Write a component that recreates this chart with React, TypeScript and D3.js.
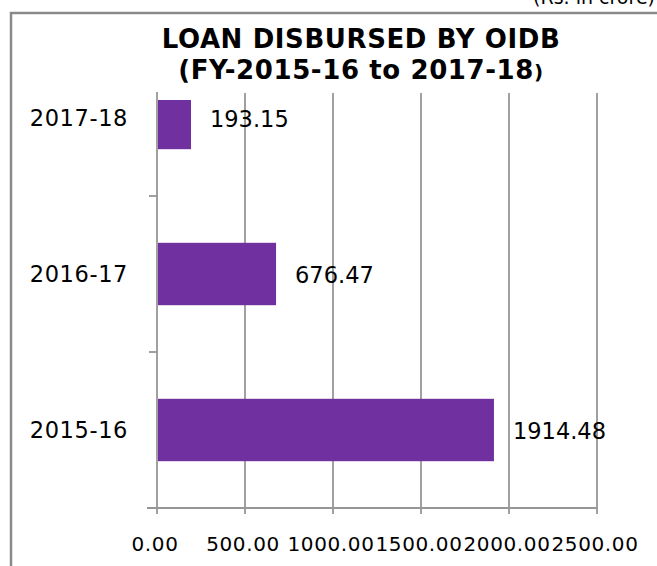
import { useEffect, useRef } from 'react'
import * as d3 from 'd3'

const years = ['2017-18', '2016-17', '2015-16']
const loans = [193.15, 676.47, 1914.48]
const xTicks = [0, 500, 1000, 1500, 2000, 2500]

const W = 657
const H = 566
const FONT = '"DejaVu Sans", Verdana, sans-serif'
const PURPLE = '#7030a0'
const GRID = '#969696'

export default function App() {
  const svgRef = useRef<SVGSVGElement>(null)

  useEffect(() => {
    if (!svgRef.current) return
    const svg = d3.select(svgRef.current)
    svg.selectAll('*').remove()

    const plotTop = 93
    const x = d3.scaleLinear().domain([0, 2500]).range([157, 597])
    const y = d3.scaleBand().domain(years).range([40, 508])
    const barH = y.bandwidth() * 0.4
    const bottom = y.range()[1]

    // outer chart border (cropped)
    svg
      .append('path')
      .attr('d', `M11,${H} V13 H${W}`)
      .attr('fill', 'none')
      .attr('stroke', '#8a8a8a')
      .attr('stroke-width', 2.5)

    svg
      .append('text')
      .attr('x', W - 2)
      .attr('y', 4)
      .attr('text-anchor', 'end')
      .attr('font-family', FONT)
      .attr('font-size', 19)
      .text('(Rs. in crore)')

    // title
    const title = svg
      .append('text')
      .attr('text-anchor', 'middle')
      .attr('font-family', FONT)
      .attr('font-weight', 'bold')
      .attr('font-size', 26)
      .attr('letter-spacing', 0.6)
    title.append('tspan').attr('x', 361).attr('y', 48).text('LOAN DISBURSED BY OIDB')
    const l2 = title.append('tspan').attr('x', 361).attr('y', 79)
    l2.append('tspan').text('(FY-2015-16 to 2017-18')
    l2.append('tspan').attr('font-size', 20).text(')')

    // vertical gridlines
    svg
      .selectAll('line.grid')
      .data(xTicks.slice(1))
      .join('line')
      .attr('class', 'grid')
      .attr('x1', (d) => x(d))
      .attr('x2', (d) => x(d))
      .attr('y1', plotTop)
      .attr('y2', bottom + 6)
      .attr('stroke', GRID)
      .attr('stroke-width', 1.8)

    // y axis line and ticks
    svg
      .append('line')
      .attr('x1', x(0))
      .attr('x2', x(0))
      .attr('y1', plotTop - 1)
      .attr('y2', bottom + 6)
      .attr('stroke', GRID)
      .attr('stroke-width', 1.8)
    svg
      .selectAll('line.ytick')
      .data(years.slice(1))
      .join('line')
      .attr('class', 'ytick')
      .attr('x1', x(0) - 8)
      .attr('x2', x(0))
      .attr('y1', (d) => y(d)!)
      .attr('y2', (d) => y(d)!)
      .attr('stroke', GRID)
      .attr('stroke-width', 1.8)

    // x axis line
    svg
      .append('line')
      .attr('x1', x(0) - 10)
      .attr('x2', x(2500))
      .attr('y1', bottom)
      .attr('y2', bottom)
      .attr('stroke', GRID)
      .attr('stroke-width', 1.8)

    // bars, clipped under the title
    svg
      .append('clipPath')
      .attr('id', 'plot-clip')
      .append('rect')
      .attr('x', 0)
      .attr('y', 100)
      .attr('width', W)
      .attr('height', H)

    svg
      .append('g')
      .attr('clip-path', 'url(#plot-clip)')
      .selectAll('rect')
      .data(years)
      .join('rect')
      .attr('x', x(0) + 1)
      .attr('y', (d) => y(d)! + (y.bandwidth() - barH) / 2)
      .attr('width', (d, i) => x(loans[i]) - x(0) - 1)
      .attr('height', barH)
      .attr('fill', PURPLE)

    // value labels
    svg
      .selectAll('text.val')
      .data(years)
      .join('text')
      .attr('class', 'val')
      .attr('x', (d, i) => x(loans[i]) + 19)
      .attr('y', (d) => y(d)! + y.bandwidth() / 2)
      .attr('dy', '0.38em')
      .attr('font-family', FONT)
      .attr('font-size', 22.5)
      .text((d, i) => loans[i].toFixed(2))

    // category labels
    svg
      .selectAll('text.cat')
      .data(years)
      .join('text')
      .attr('class', 'cat')
      .attr('x', 128)
      .attr('y', (d) => y(d)! + y.bandwidth() / 2)
      .attr('dy', '0.36em')
      .attr('text-anchor', 'end')
      .attr('font-family', FONT)
      .attr('font-size', 22.5)
      .attr('letter-spacing', 0.6)
      .text((d) => d)

    // x tick labels
    svg
      .selectAll('text.xt')
      .data(xTicks)
      .join('text')
      .attr('class', 'xt')
      .attr('x', (d) => x(d) - 2)
      .attr('y', 551)
      .attr('text-anchor', 'middle')
      .attr('font-family', FONT)
      .attr('font-size', 20)
      .attr('letter-spacing', 0.6)
      .text((d) => d.toFixed(2))
  }, [])

  return (
    <svg
      ref={svgRef}
      width={W}
      height={H}
      style={{ position: 'absolute', left: 0, top: 0, background: '#fff', display: 'block' }}
    />
  )
}
